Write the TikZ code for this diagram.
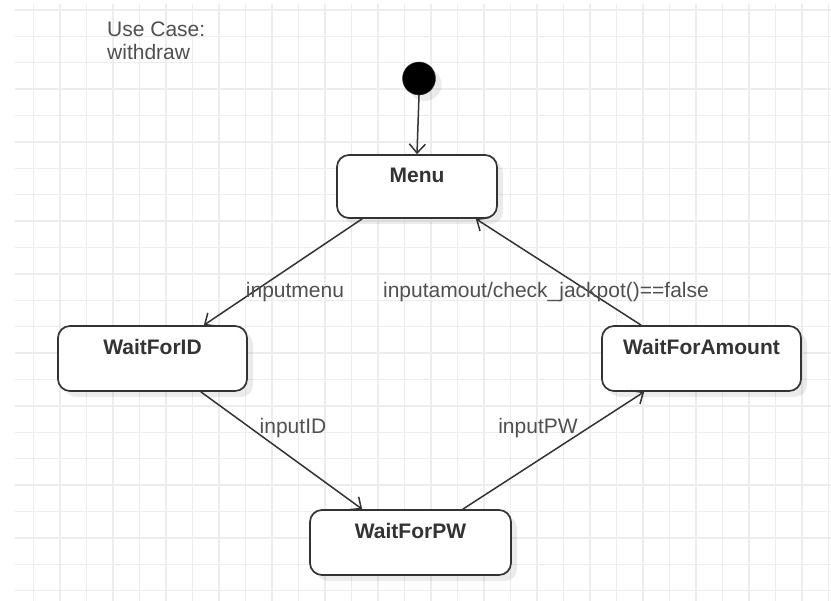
\documentclass[tikz,border=0pt]{standalone}
\usepackage{fontspec}
\setmainfont{Liberation Sans}
\usetikzlibrary{arrows.meta,shadows,calc}
\definecolor{gridc}{HTML}{EDEDED}
\definecolor{ink}{HTML}{333333}
\definecolor{lbltxt}{HTML}{505050}

\begin{document}
\begin{tikzpicture}[x=1pt,y=-1pt,
  every node/.style={font=\fontsize{21}{23}\selectfont},
  soft shadow/.style={drop shadow={shadow xshift=6pt, shadow yshift=-6pt, fill=black, opacity=0.08}},
  state/.style={draw=ink, line width=1.7pt, fill=white, rounded corners=12pt,
    inner sep=0pt, soft shadow},
  title/.style={anchor=center, yshift=-21.5pt, text=ink, font=\fontsize{21}{23}\selectfont\bfseries},
  conn/.style={draw=ink, line width=1.5pt, -{Straight Barb[length=9pt,width=16pt]}},
  lbl/.style={text=lbltxt, inner sep=0pt}
]
\useasboundingbox (0,0) rectangle (831,601);
\fill[white] (0,0) rectangle (831,601);

% background grid
\foreach \i in {0,...,30}
  \draw[gridc, line width=1.4pt] ({33.3+26.51*\i},4) -- ({33.3+26.51*\i},601);
\foreach \j in {0,...,22}
  \draw[gridc, line width=1.4pt] (15,{10+26.4*\j}) -- (831,{10+26.4*\j});

% heading
\node[anchor=north west, inner sep=0pt, align=left, text=lbltxt] (usecase) at (107,22) {Use Case:\\withdraw};

% initial pseudo-state
\node[circle, fill=black, draw=ink, minimum size=33pt, inner sep=0pt, soft shadow] (init) at (419,78.5) {};

% states
\node[state, minimum width=160pt, minimum height=63pt, label={[title]north:Menu}] (menu) at (417,186.5) {};
\node[state, minimum width=189pt, minimum height=65pt, label={[title]north:WaitForID}] (id) at (152.5,358.5) {};
\node[state, minimum width=199pt, minimum height=65pt, label={[title]north:WaitForAmount}] (amount) at (701.5,358.5) {};
\node[state, minimum width=201pt, minimum height=65pt, label={[title]north:WaitForPW}] (pw) at (410.5,542.5) {};

% transitions
\draw[conn] (init.south) -- (menu.north);
\draw[conn] ([xshift=26pt]menu.south west) -- ([xshift=-44pt]id.north east);
\draw[conn] ([xshift=-47pt]id.south east) -- ([xshift=53pt]pw.north west);
\draw[conn] ([xshift=-49pt]pw.north east) -- ([xshift=43pt]amount.south west);
\draw[conn] ([xshift=40pt]amount.north west) -- ([xshift=-22pt]menu.south east);

% transition labels
\node[lbl] (l-menu) at (295,292) {inputmenu};
\node[lbl] (l-amount) at (546,292) {inputamout/check\_jackpot()==false};
\node[lbl] (l-id) at (293,428) {inputID};
\node[lbl] (l-pw) at (538,428) {inputPW};
\end{tikzpicture}
\end{document}
